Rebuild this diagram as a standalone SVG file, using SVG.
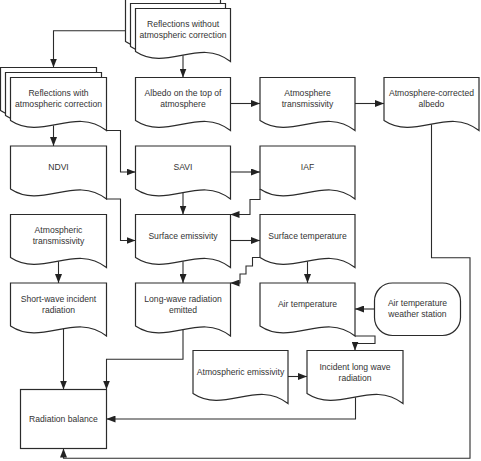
<svg xmlns="http://www.w3.org/2000/svg" xmlns:xlink="http://www.w3.org/1999/xlink" width="481" height="461" viewBox="0 0 481 461">
<style>
.shape{fill:#fff;stroke:#2b2b2b;stroke-width:1.2}
.conn{fill:none;stroke:#2b2b2b;stroke-width:1.1}
.t{font-family:"Liberation Sans",Arial,sans-serif;font-size:8.6px;fill:#333;text-anchor:middle}
</style>
<defs>
<path id="d95" d="M0,0 H95 V53 C63.33,28.4 31.67,64 0,43 Z"/>
<path id="d96" d="M0,0 H96 V53 C64,28.4 32,64 0,43 Z"/>
<marker id="arr" markerUnits="userSpaceOnUse" markerWidth="9" markerHeight="7" refX="9" refY="3.5" orient="auto">
<path d="M0,0 L9,3.5 L0,7 Z" fill="#222"/>
</marker>
</defs>
<rect width="481" height="461" fill="#fff"/>
<g id="connectors" class="conn" marker-end="url(#arr)">
<path d="M125.5,30.7 H53.5 V67.5"/>
<path d="M183,55.2 V77.5"/>
<path d="M230.5,103.5 H260"/>
<path d="M355,103.5 H384"/>
<path d="M431.5,124.2 V257.7 H470 V458.3 H63.5 V448.5"/>
<path d="M53.5,125.4 V146"/>
<path d="M106.5,130.5 H120.5 V172 H135.5"/>
<path d="M106.5,199 H120.5 V240.5 H135.5"/>
<path d="M230.5,172 H260"/>
<path d="M183,192.7 V214.5"/>
<path d="M260,189 V199.5 H250 V214.5 H230.5"/>
<path d="M230.5,240.5 H260"/>
<path d="M307.5,261.2 V283"/>
<path d="M260,257.5 H252.5 V266 H246 V274 H240 V283 H230.5"/>
<path d="M58.5,261.2 V283"/>
<path d="M183,261.2 V283"/>
<path d="M374.5,309 H355"/>
<path d="M355,336 H375 V343.5 H355 V350.5"/>
<path d="M288,376.5 H307"/>
<path d="M355.5,397.2 V419 H106.5"/>
<path d="M63.5,328.8 V389.5"/>
<path d="M183,329.7 V359.3 H106.5 V389.5"/>
</g>
<g id="refl-without">
<use xlink:href="#d95" class="shape" x="125.5" y="-1.5"/>
<use xlink:href="#d95" class="shape" x="130.5" y="3.5"/>
<use xlink:href="#d95" class="shape" x="135.5" y="8.5"/>
<text class="t" x="183" y="27.1">Reflections without</text>
<text class="t" x="183" y="38.1">atmospheric correction</text>
</g>
<g id="refl-with">
<use xlink:href="#d96" class="shape" x="0.5" y="67.5"/>
<use xlink:href="#d96" class="shape" x="5.5" y="72.5"/>
<use xlink:href="#d96" class="shape" x="10.5" y="77.5"/>
<text class="t" x="58.5" y="96.1">Reflections with</text>
<text class="t" x="58.5" y="107.1">atmospheric correction</text>
</g>
<g id="albedo-top">
<use xlink:href="#d95" class="shape" x="135.5" y="77.5"/>
<text class="t" x="183" y="96.1">Albedo on the top of</text>
<text class="t" x="183" y="107.1">atmosphere</text>
</g>
<g id="atm-trans1">
<use xlink:href="#d95" class="shape" x="260" y="77.5"/>
<text class="t" x="307.5" y="96.1">Atmosphere</text>
<text class="t" x="307.5" y="107.1">transmissivity</text>
</g>
<g id="atm-albedo">
<use xlink:href="#d95" class="shape" x="384" y="77.5"/>
<text class="t" x="431.5" y="96.1">Atmosphere-corrected</text>
<text class="t" x="431.5" y="107.1">albedo</text>
</g>
<g id="ndvi">
<use xlink:href="#d96" class="shape" x="10.5" y="146"/>
<text class="t" x="58.5" y="170">NDVI</text>
</g>
<g id="savi">
<use xlink:href="#d95" class="shape" x="135.5" y="146"/>
<text class="t" x="183" y="170">SAVI</text>
</g>
<g id="iaf">
<use xlink:href="#d95" class="shape" x="260" y="146"/>
<text class="t" x="307.5" y="170">IAF</text>
</g>
<g id="atm-trans2">
<use xlink:href="#d96" class="shape" x="10.5" y="214.5"/>
<text class="t" x="58.5" y="233.1">Atmospheric</text>
<text class="t" x="58.5" y="244.1">transmissivity</text>
</g>
<g id="surf-emis">
<use xlink:href="#d95" class="shape" x="135.5" y="214.5"/>
<text class="t" x="183" y="238.5">Surface emissivity</text>
</g>
<g id="surf-temp">
<use xlink:href="#d95" class="shape" x="260" y="214.5"/>
<text class="t" x="307.5" y="238.5">Surface temperature</text>
</g>
<g id="short-wave">
<use xlink:href="#d96" class="shape" x="10.5" y="283"/>
<text class="t" x="58.5" y="301.6">Short-wave incident</text>
<text class="t" x="58.5" y="312.6">radiation</text>
</g>
<g id="long-wave">
<use xlink:href="#d95" class="shape" x="135.5" y="283"/>
<text class="t" x="183" y="301.6">Long-wave radiation</text>
<text class="t" x="183" y="312.6">emitted</text>
</g>
<g id="air-temp">
<use xlink:href="#d95" class="shape" x="260" y="283"/>
<text class="t" x="307.5" y="307">Air temperature</text>
</g>
<g id="weather-station">
<rect class="shape" x="374.5" y="283" width="86" height="52.5" rx="18" ry="18"/>
<text class="t" x="417.5" y="306">Air temperature</text>
<text class="t" x="417.5" y="316.5">weather station</text>
</g>
<g id="atm-emis">
<use xlink:href="#d95" class="shape" x="193" y="350.5"/>
<text class="t" x="240.5" y="374.5">Atmospheric emissivity</text>
</g>
<g id="incident-long">
<use xlink:href="#d96" class="shape" x="307" y="350.5"/>
<text class="t" x="355" y="369.5">Incident long wave</text>
<text class="t" x="355" y="380.5">radiation</text>
</g>
<g id="radiation-balance">
<rect class="shape" x="20.5" y="389.5" width="86" height="59"/>
<text class="t" x="63.5" y="422">Radiation balance</text>
</g>
</svg>
